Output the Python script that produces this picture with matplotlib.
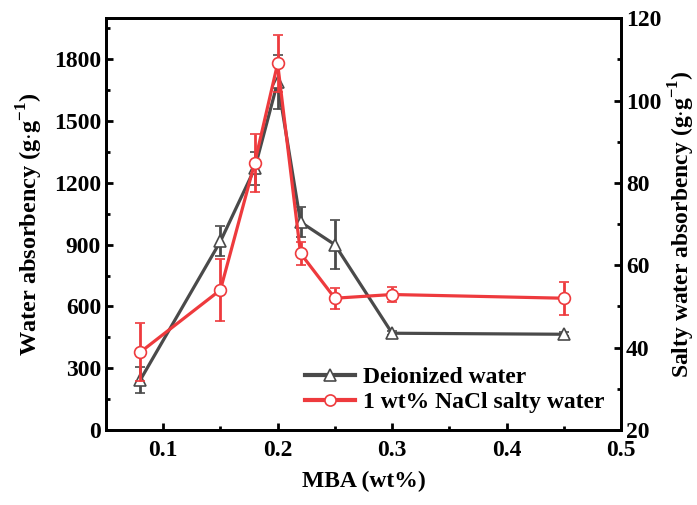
import matplotlib
matplotlib.use('Agg')
import matplotlib.pyplot as plt
from matplotlib.lines import Line2D
from matplotlib.ticker import MultipleLocator

plt.rcParams['font.family'] = ['Liberation Serif', 'DejaVu Serif']
plt.rcParams['font.weight'] = 'bold'
plt.rcParams['mathtext.fontset'] = 'custom'
plt.rcParams['mathtext.rm'] = 'Liberation Serif:bold'
plt.rcParams['mathtext.bf'] = 'Liberation Serif:bold'

C_DI   = '#4a4a4a'   # deionized water
C_SALT = '#ee3a3d'   # NaCl solution

# data
mba      = [0.08, 0.15, 0.18, 0.20, 0.22, 0.25, 0.30, 0.45]
di_abs   = [243, 916, 1270, 1690, 1010, 900, 470, 465]
di_err   = [62, 73, 80, 130, 75, 118, 10, 10]
salt_abs = [38.9, 54.0, 84.9, 109.0, 62.9, 52.0, 52.9, 52.0]
salt_err = [7.0, 7.6, 7.0, 7.0, 2.8, 2.6, 1.8, 4.0]

fig = plt.figure(figsize=(6.97, 5.05), dpi=100)
ax = fig.add_axes([0.152, 0.1485, 0.739, 0.8155])
ax2 = ax.twinx()

ax.errorbar(mba, di_abs, yerr=di_err, color=C_DI, lw=2.3, marker='^',
            ms=8.5, mfc='white', mec=C_DI, mew=1.2, capsize=3.5, capthick=2,
            elinewidth=2, zorder=3)
ax2.errorbar(mba, salt_abs, yerr=salt_err, color=C_SALT, lw=2.3, marker='o',
             ms=8.5, mfc='white', mec=C_SALT, mew=1.2, capsize=3.5, capthick=2,
             elinewidth=2, zorder=3)

ax.set_xlim(0.05, 0.5)
ax.set_ylim(0, 2000)
ax2.set_ylim(20, 120)
ax.xaxis.set_major_locator(MultipleLocator(0.1))
ax.xaxis.set_minor_locator(MultipleLocator(0.05))
ax.yaxis.set_major_locator(MultipleLocator(300))
ax.yaxis.set_minor_locator(MultipleLocator(150))
ax2.yaxis.set_major_locator(MultipleLocator(20))
ax2.yaxis.set_minor_locator(MultipleLocator(10))
ax.set_xticks([0.1, 0.2, 0.3, 0.4, 0.5])
ax.set_xticklabels(['0.1', '0.2', '0.3', '0.4', '0.5'])

for a in (ax, ax2):
    a.tick_params(which='major', direction='in', length=5, width=2, labelsize=17)
    a.tick_params(which='minor', direction='in', length=3, width=2)
    for s in a.spines.values():
        s.set_linewidth(2)
ax.tick_params(axis='x', pad=7)

ax.set_xlabel('MBA (wt%)', fontsize=17, fontweight='bold', labelpad=7)
ax.set_ylabel(r'Water absorbency (g$\cdot$g$^{-1}$)', fontsize=17.5,
              fontweight='bold', labelpad=6)
ax2.set_ylabel(r'Salty water absorbency (g$\cdot$g$^{-1}$)', fontsize=17,
               fontweight='bold', labelpad=4)

handles = [Line2D([], [], color=C_DI, lw=3, marker='^', ms=8, mfc='white',
                  mec=C_DI, mew=1.2),
           Line2D([], [], color=C_SALT, lw=3, marker='o', ms=8, mfc='white',
                  mec=C_SALT, mew=1.2)]
ax.legend(handles, ['Deionized water', '1 wt% NaCl salty water'],
          loc='lower right', bbox_to_anchor=(1.0, 0.0), frameon=False,
          fontsize=17, handlelength=2.1, handletextpad=0.35,
          borderaxespad=0.3, labelspacing=0.15)

fig.savefig('out.png', dpi=100)
